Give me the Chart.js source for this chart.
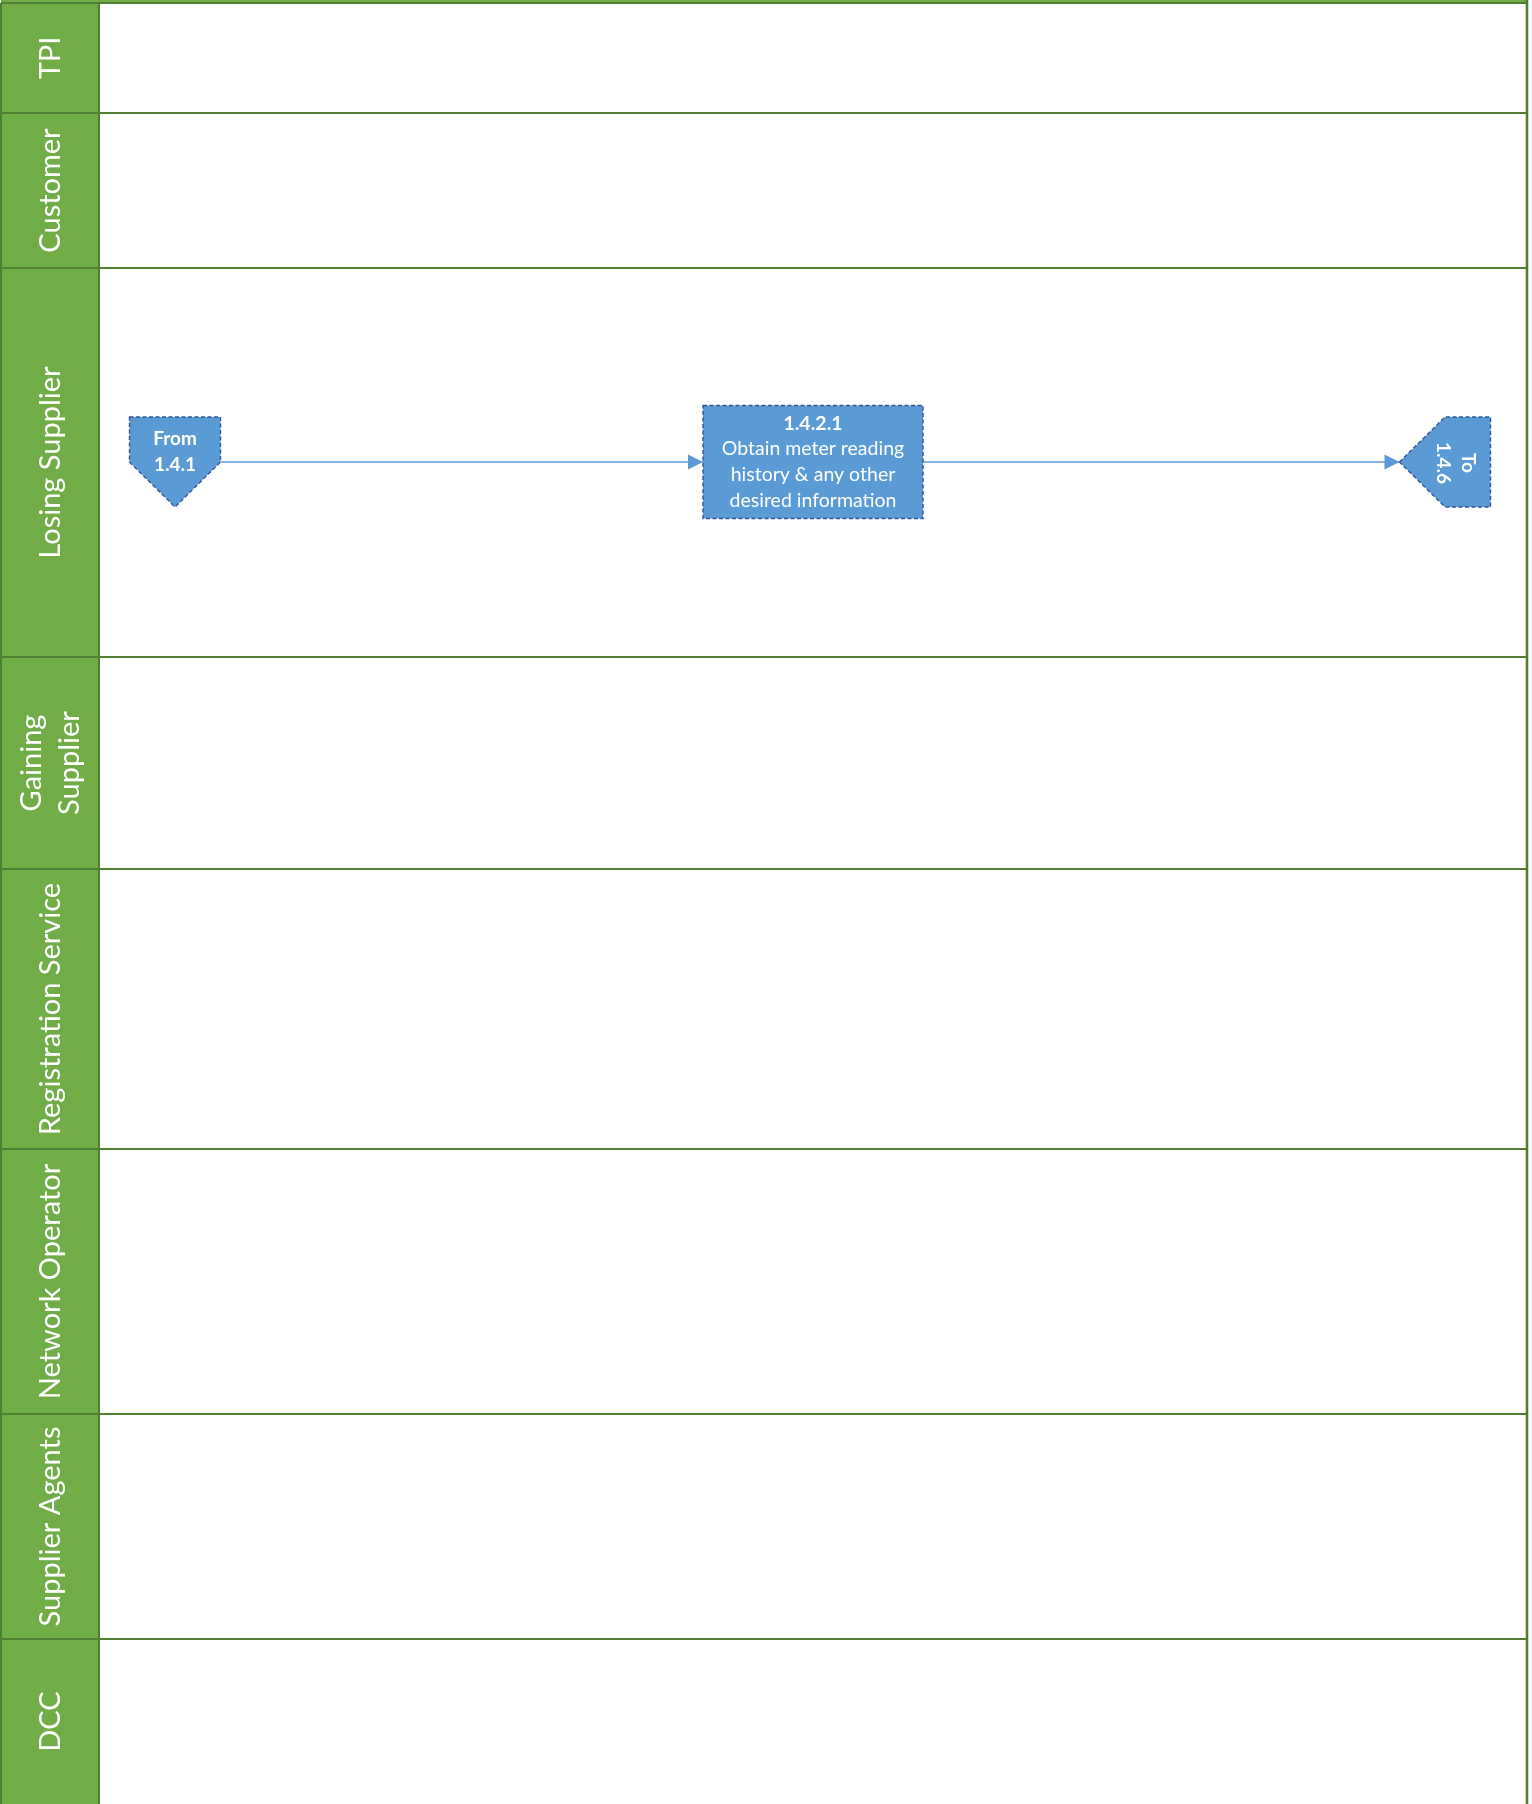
<!DOCTYPE html>
<html>
<head>
<meta charset="utf-8">
<script src="https://cdn.jsdelivr.net/npm/chart.js@4/dist/chart.umd.min.js"></script>
<style>
  html, body { margin: 0; padding: 0; background: #ffffff; }
  #wrap { width: 1532px; height: 1804px; position: relative; }
</style>
</head>
<body>
<div id="wrap"><canvas id="c" width="1532" height="1804"></canvas></div>
<script>
// ---- Diagram data (in diagram units along the chart's x / y scales) ----
const laneNames = ['TPI', 'Customer', 'Losing Supplier', 'Gaining\nSupplier',
  'Registration Service', 'Network Operator', 'Supplier Agents', 'DCC'];
const laneEdges = [3, 113, 268, 657, 869, 1149, 1414, 1639, 1804];

const nodeKinds  = ['offPageFrom', 'process', 'offPageTo'];
const nodeLabels = [['From', '1.4.1'],
  ['1.4.2.1', 'Obtain meter reading', 'history & any other', 'desired information'],
  ['To', '1.4.6']];
const nodeX = [175, 813, 1445];
const nodeY = [462, 462, 462];
const edgesFrom = [0, 1];
const edgesTo   = [1, 2];

// ---- Styles ----
const STYLE = {
  laneHeaderWidth: 99,
  green: '#70AD47',
  greenLine: '#507E32',
  blue: '#5B9BD5',
  blueDash: '#2F5597',
  font: 'Lato, "Open Sans", sans-serif',
  sizes: { offPageFrom: [91, 90], process: [220, 113], offPageTo: [91, 90] }
};

function nodeBox(i) {
  const [w, h] = STYLE.sizes[nodeKinds[i]];
  return { l: nodeX[i] - w / 2, r: nodeX[i] + w / 2, t: nodeY[i] - 45 * (h / 90) + (nodeKinds[i] === 'process' ? 0 : 0), w, h };
}

// connector datasets built from node arrays
const edgeDatasets = edgesFrom.map((f, k) => {
  const t = edgesTo[k];
  const a = STYLE.sizes[nodeKinds[f]][0] / 2;
  const b = STYLE.sizes[nodeKinds[t]][0] / 2;
  return {
    type: 'scatter',
    data: [{ x: nodeX[f] + a, y: nodeY[f] }, { x: nodeX[t] - b, y: nodeY[t] }],
    showLine: true,
    borderColor: STYLE.blue,
    borderWidth: 1.6,
    pointRadius: 0,
    pointHoverRadius: 0
  };
});

const lanePlugin = {
  id: 'lanes',
  beforeDatasetsDraw(chart) {
    const { ctx, scales: { x, y } } = chart;
    const x0 = x.getPixelForValue(1);
    const xh = x.getPixelForValue(STYLE.laneHeaderWidth);
    const x1 = x.getPixelForValue(1527);
    ctx.save();
    // top band
    ctx.fillStyle = STYLE.green;
    ctx.fillRect(x0, y.getPixelForValue(0), x1 - x0, y.getPixelForValue(laneEdges[0]) - y.getPixelForValue(0));
    // header column
    ctx.fillRect(x0, y.getPixelForValue(laneEdges[0]), xh - x0,
      y.getPixelForValue(laneEdges[laneEdges.length - 1]) - y.getPixelForValue(laneEdges[0]));
    ctx.strokeStyle = STYLE.greenLine;
    ctx.lineWidth = 2;
    // horizontal lane lines
    for (let i = 0; i < laneEdges.length - 1; i++) {
      const py = y.getPixelForValue(laneEdges[i]);
      ctx.beginPath(); ctx.moveTo(x0, py); ctx.lineTo(x1, py); ctx.stroke();
    }
    // verticals
    const yt = y.getPixelForValue(laneEdges[0]);
    const yb = y.getPixelForValue(laneEdges[laneEdges.length - 1]);
    [x0, xh].forEach(px => { ctx.beginPath(); ctx.moveTo(px, yt); ctx.lineTo(px, yb); ctx.stroke(); });
    ctx.lineWidth = 2.6;
    ctx.beginPath(); ctx.moveTo(x1, y.getPixelForValue(0)); ctx.lineTo(x1, yb); ctx.stroke();
    // labels
    ctx.fillStyle = '#ffffff';
    ctx.font = '29px ' + STYLE.font;
    ctx.textAlign = 'center';
    ctx.textBaseline = 'middle';
    for (let i = 0; i < laneNames.length; i++) {
      const cy = (y.getPixelForValue(laneEdges[i]) + y.getPixelForValue(laneEdges[i + 1])) / 2;
      const cx = (x0 + xh) / 2;
      const lines = laneNames[i].split('\n');
      ctx.save();
      ctx.translate(cx, cy);
      ctx.rotate(-Math.PI / 2);
      const lh = 38;
      lines.forEach((ln, k) => {
        ctx.fillText(ln, 0, (k - (lines.length - 1) / 2) * lh + 1);
      });
      ctx.restore();
    }
    ctx.restore();
  },
  afterDatasetsDraw(chart) {
    const { ctx, scales: { x, y } } = chart;
    ctx.save();
    // arrowheads
    edgesTo.forEach(t => {
      const tipX = x.getPixelForValue(nodeX[t] - STYLE.sizes[nodeKinds[t]][0] / 2);
      const py = y.getPixelForValue(nodeY[t]);
      ctx.fillStyle = STYLE.blue;
      ctx.beginPath();
      ctx.moveTo(tipX, py);
      ctx.lineTo(tipX - 15, py - 7.5);
      ctx.lineTo(tipX - 15, py + 7.5);
      ctx.closePath();
      ctx.fill();
    });
    // nodes
    nodeKinds.forEach((kind, i) => {
      const [w, h] = STYLE.sizes[kind];
      const cx = x.getPixelForValue(nodeX[i]);
      const cy = y.getPixelForValue(nodeY[i]);
      ctx.beginPath();
      if (kind === 'process') {
        const t = cy - h / 2;
        ctx.rect(cx - w / 2, t, w, h);
      } else if (kind === 'offPageFrom') {
        const t = cy - 45, l = cx - w / 2, r = cx + w / 2;
        ctx.moveTo(l, t); ctx.lineTo(r, t); ctx.lineTo(r, cy); ctx.lineTo(cx, cy + 45);
        ctx.lineTo(l, cy); ctx.closePath();
      } else {
        const t = cy - h / 2, b = cy + h / 2, l = cx - w / 2, r = cx + w / 2;
        ctx.moveTo(l, cy); ctx.lineTo(cx, t); ctx.lineTo(r, t); ctx.lineTo(r, b); ctx.lineTo(cx, b);
        ctx.closePath();
      }
      ctx.fillStyle = STYLE.blue;
      ctx.fill();
      ctx.setLineDash([4, 2.5]);
      ctx.strokeStyle = STYLE.blueDash;
      ctx.lineWidth = 1.4;
      ctx.stroke();
      ctx.setLineDash([]);
      // text
      ctx.fillStyle = '#ffffff';
      ctx.textAlign = 'center';
      ctx.textBaseline = 'middle';
      const lines = nodeLabels[i];
      if (kind === 'process') {
        const lh = 25.6;
        lines.forEach((ln, k) => {
          ctx.font = (k === 0 ? 'bold ' : '') + '19.5px ' + STYLE.font;
          ctx.fillText(ln, cx, cy + (k - (lines.length - 1) / 2) * lh);
        });
      } else if (kind === 'offPageFrom') {
        ctx.font = 'bold 19px ' + STYLE.font;
        ctx.fillText(lines[0], cx, cy - 23);
        ctx.fillText(lines[1], cx, cy + 3);
      } else {
        ctx.save();
        ctx.translate(cx, cy);
        ctx.rotate(Math.PI / 2);
        ctx.font = 'bold 19px ' + STYLE.font;
        ctx.fillText(lines[0], 1, -23);
        ctx.fillText(lines[1], 1, 2);
        ctx.restore();
      }
    });
    ctx.restore();
  }
};

new Chart(document.getElementById('c'), {
  type: 'scatter',
  data: { datasets: edgeDatasets },
  options: {
    responsive: false,
    animation: false,
    devicePixelRatio: 1,
    layout: { padding: 0 },
    plugins: { legend: { display: false }, tooltip: { enabled: false } },
    events: [],
    scales: {
      x: { type: 'linear', min: 0, max: 1532, display: false },
      y: { type: 'linear', min: 0, max: 1804, reverse: true, display: false }
    }
  },
  plugins: [lanePlugin]
});
</script>
</body>
</html>
